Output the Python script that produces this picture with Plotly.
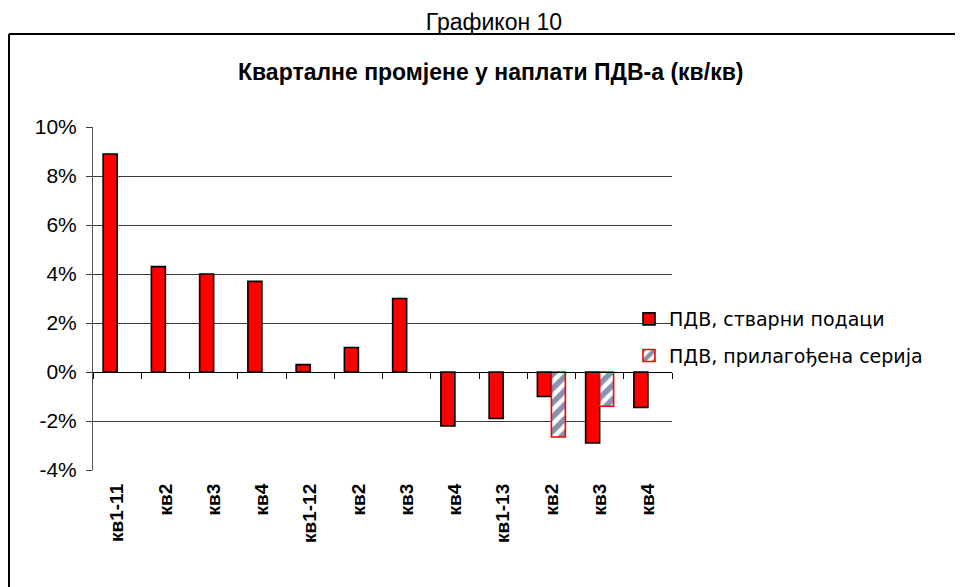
import plotly.graph_objects as go

categories = ["кв1-11", "кв2", "кв3", "кв4", "кв1-12", "кв2", "кв3", "кв4",
              "кв1-13", "кв2", "кв3", "кв4"]
actual = [8.9, 4.3, 4.0, 3.7, 0.3, 1.0, 3.0, -2.2, -1.9, -1.0, -2.9, -1.45]
adjusted = [None, None, None, None, None, None, None, None, None, -2.65, -1.4, None]
series_names = ["ПДВ, стварни подаци", "ПДВ, прилагођена серија"]
y_ticks = [-4, -2, 0, 2, 4, 6, 8, 10]
y_tick_labels = ["-4%", "-2%", "0%", "2%", "4%", "6%", "8%", "10%"]

OFF = 8  # page body margin of the html page
W, H = 963 - OFF, 587 - OFF
L, R, T, B = 93 - OFF, 672 - OFF, 127 - OFF, 470 - OFF  # plot area in figure px


def px_x(p):
    return (p - OFF - L) / (R - L)


def px_y(p):
    return (B - (p - OFF)) / (B - T)


xs = list(range(len(categories)))

fig = go.Figure()
fig.add_trace(go.Bar(
    x=xs, y=actual, name=series_names[0], legendgroup="a",
    marker=dict(color="#FF0000", line=dict(color="#000000", width=1.6)),
))
fig.add_trace(go.Bar(
    x=xs, y=adjusted, name=series_names[1], legendgroup="b",
    marker=dict(color="#FFFFFF", line=dict(color="#FF0000", width=1.6),
                pattern=dict(shape="/", fgcolor="#0D2660", bgcolor="#FFFFFF",
                             size=10, solidity=0.55)),
))
# helper trace so the zero-line axis with tick marks is drawn
fig.add_trace(go.Scatter(x=[], y=[], xaxis="x2", showlegend=False, hoverinfo="skip"))

fig.update_layout(
    width=W, height=H,
    margin=dict(l=L, r=W - R, t=T, b=H - B),
    paper_bgcolor="white", plot_bgcolor="white",
    barmode="group", bargap=0.42, bargroupgap=0,
    font=dict(family="Liberation Sans, Arial, sans-serif", color="#000000"),
    title=dict(text="Графикон 10", x=(494 - OFF) / W, xref="container", xanchor="center",
               y=1 - (22 - OFF) / H, yref="container", yanchor="middle",
               font=dict(family="Liberation Sans, Arial, sans-serif",
                         size=23, color="#000000")),
    xaxis=dict(
        range=[-0.5, len(categories) - 0.5],
        tickmode="array", tickvals=xs, ticktext=["<b>%s</b>" % c for c in categories],
        tickangle=-90, ticks="", showgrid=False, showline=False, zeroline=False,
        tickfont=dict(family="Liberation Sans, Arial, sans-serif", size=19, color="#000000"),
        ticklabelstandoff=9,
    ),
    xaxis2=dict(
        overlaying="x", anchor="free", position=4 / 14,
        range=[-0.5, len(categories) - 0.5],
        tickmode="array", tickvals=[i - 0.5 for i in range(len(categories) + 1)],
        ticks="outside", ticklen=6, tickwidth=1, tickcolor="#000000",
        showticklabels=False, showline=True, linecolor="#000000", linewidth=1.2,
        showgrid=False, zeroline=False,
    ),
    yaxis=dict(
        range=[-4, 10], tickmode="array", tickvals=y_ticks, ticktext=y_tick_labels,
        showgrid=True, gridcolor="#3a3a3a", gridwidth=1,
        zeroline=False, showline=True, linecolor="#555555", linewidth=1,
        ticks="outside", ticklen=6, tickcolor="#3a3a3a",
        tickfont=dict(family="Liberation Sans, Arial, sans-serif", size=21, color="#000000"),
        ticklabelstandoff=5,
    ),
    legend=dict(
        x=px_x(629), y=px_y(300), xanchor="left", yanchor="top",
        traceorder="grouped", tracegroupgap=9, itemwidth=30,
        bgcolor="rgba(0,0,0,0)",
        font=dict(family="DejaVu Sans, Verdana, sans-serif", size=19, color="#000000"),
    ),
    annotations=[dict(
        text="<b>Квартaлне промјене у наплати ПДВ-а (кв/кв)</b>",
        xref="paper", yref="paper", x=px_x(490), y=px_y(72),
        xanchor="center", yanchor="middle", showarrow=False,
        font=dict(family="Liberation Sans, Arial, sans-serif", size=23, color="#000000"),
    )],
    shapes=[
        dict(type="line", xref="paper", yref="paper", x0=px_x(9), x1=px_x(970),
             y0=px_y(34), y1=px_y(34), line=dict(color="#000000", width=2)),
        dict(type="line", xref="paper", yref="paper", x0=px_x(9), x1=px_x(9),
             y0=px_y(34), y1=px_y(600), line=dict(color="#000000", width=2)),
    ],
)

fig.write_html("out.html")
